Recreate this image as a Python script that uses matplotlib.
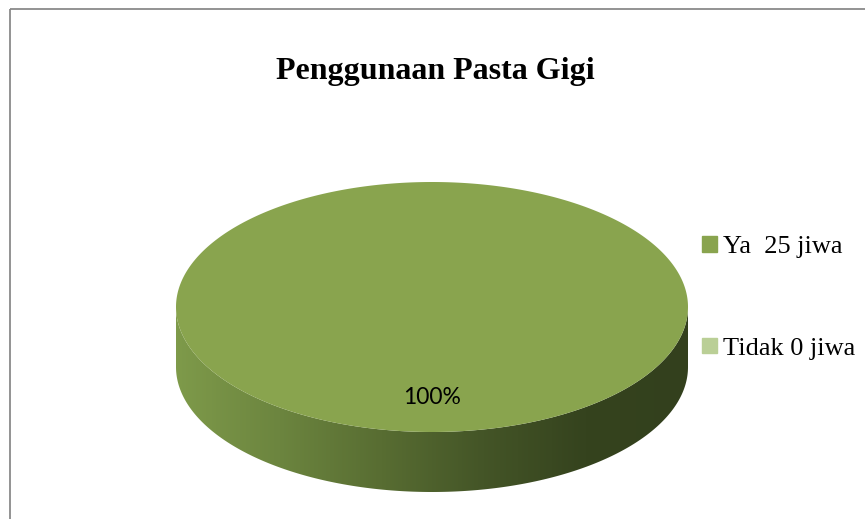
import numpy as np
import matplotlib.pyplot as plt
from matplotlib.patches import Polygon, Patch, Rectangle
from matplotlib.colors import LinearSegmentedColormap

title = 'Penggunaan Pasta Gigi'
labels = ['Ya  25 jiwa', 'Tidak 0 jiwa']
values = np.array([25, 0])
colors = ['#89a44e', '#bacf96']

W, H = 865, 519
fig = plt.figure(figsize=(W / 100, H / 100), dpi=100)

# chart frame (only top and left edges fall inside the picture)
bg = fig.add_axes([0, 0, 1, 1])
bg.set_xlim(0, W)
bg.set_ylim(H, 0)
bg.axis('off')
bg.add_patch(Rectangle((10, 9), W + 20, H + 20, fill=False, ec='#8a8a8a', lw=1.3))

# pie geometry in pixels
cx, cy, rx, ry, depth = 432, 307, 256, 125, 60
sy = ry / rx
d = depth / rx
ax = fig.add_axes([(cx - rx) / W, (H - (cy + ry + depth)) / H,
                   2 * rx / W, (2 * ry + depth) / H])
ax.set_xlim(-1, 1)
ax.set_ylim(-(sy + d), sy)
ax.axis('off')

side_cmap = LinearSegmentedColormap.from_list(
    'side', ['#7e9a4a', '#6c853f', '#586d32', '#445527', '#35431e', '#33401d'])

frac = values / values.sum()
start = 90.0
for f, c in zip(frac, colors):
    if f <= 0:
        continue
    end = start - 360 * f
    t = np.radians(np.linspace(start, end, 720))
    xs, ys = np.cos(t), sy * np.sin(t)
    # side wall (front half only)
    front = np.sin(t) <= 1e-9
    if front.any():
        fx, fy = xs[front], ys[front]
        side = np.concatenate([np.column_stack([fx, fy]),
                               np.column_stack([fx[::-1], fy[::-1] - d])])
        poly = Polygon(side, closed=True, fc='none', ec='none')
        ax.add_patch(poly)
        grad = np.linspace(0, 1, 256).reshape(1, -1)
        im = ax.imshow(grad, cmap=side_cmap, aspect='auto',
                       extent=[-1, 1, -(sy + d), sy], zorder=1)
        im.set_clip_path(poly)
    # top face
    top = np.column_stack([np.r_[0, xs], np.r_[0, ys]])
    ax.add_patch(Polygon(top, closed=True, fc=c, ec='none', zorder=2))
    mid = np.radians((start + end) / 2)
    ax.text(0.72 * np.cos(mid), 0.72 * sy * np.sin(mid), f'{f:.0%}',
            ha='center', va='center', fontsize=16.5, family='Lato',
            color='black', zorder=3)
    start = end

fig.text(435 / W, 1 - 72 / H, title, ha='center', va='center',
         family='Liberation Serif', fontweight='bold', fontsize=23)

handles = [Patch(color=c, label=l) for c, l in zip(colors, labels)]
fig.legend(handles=handles, loc='center left', bbox_to_anchor=(702 / W, 1 - 298 / H),
           frameon=False, prop={'family': 'Liberation Serif', 'size': 19},
           handlelength=0.55, handleheight=0.55, handletextpad=0.25,
           labelspacing=3.0, borderpad=0, borderaxespad=0)

fig.savefig('out.png', dpi=100)
